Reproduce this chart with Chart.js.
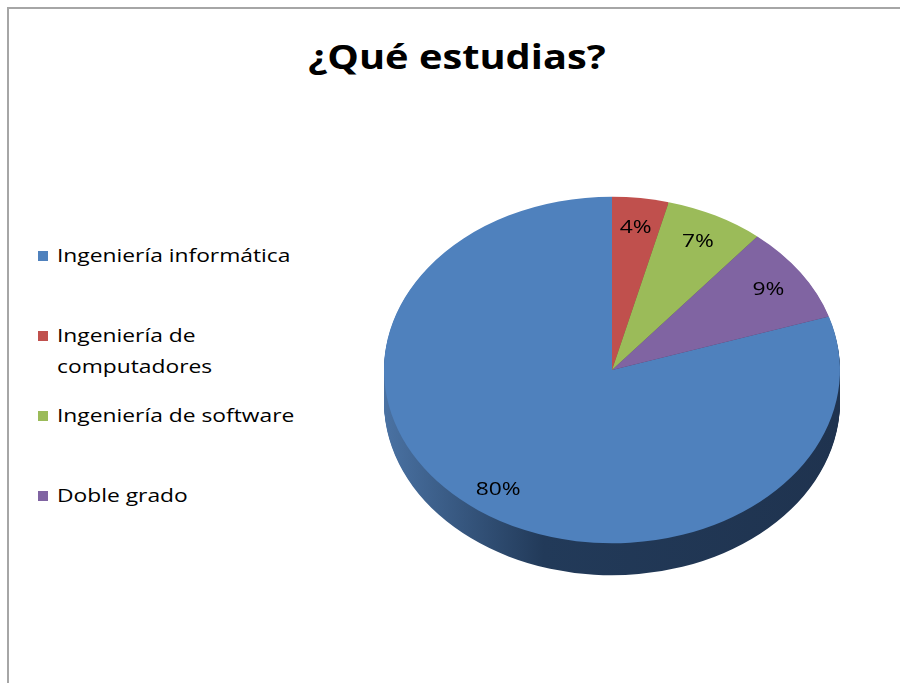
<!DOCTYPE html>
<html>
<head>
<meta charset="utf-8">
<script src="https://cdn.jsdelivr.net/npm/chart.js@4"></script>
<style>
  html, body { margin: 0; padding: 0; background: #fff; }
  #wrap { position: relative; width: 900px; height: 683px; overflow: hidden; }
  #frame { position: absolute; left: 7px; top: 7px; width: 900px; height: 700px;
           border-left: 2px solid #a6a6a6; border-top: 2px solid #a6a6a6; }
  #title { position: absolute; left: 0; width: 914px; top: 33px; text-align: center;
           font: bold 34px "Open Sans", sans-serif; color: #000;
           transform: scaleX(1.17); transform-origin: 457px 0; }
  #legend { position: absolute; left: 38px; top: 240px; font: 19px "Open Sans", sans-serif; color: #000; }
  .item { position: absolute; left: 0; white-space: nowrap; line-height: 31px; }
  .box { display: inline-block; width: 10px; height: 10px; margin-right: 9px; vertical-align: 1px; }
  .txt { display: inline-block; vertical-align: top; transform: scaleX(1.2); transform-origin: 0 0; }
  canvas { position: absolute; left: 0; top: 0; }
</style>
</head>
<body>
<div id="wrap">
  <div id="frame"></div>
  <div id="title">¿Qué estudias?</div>
  <div id="legend"></div>
  <canvas id="pie" width="900" height="683"></canvas>
</div>
<script>
const labels = ["Ingeniería informática", "Ingeniería de computadores", "Ingeniería de software", "Doble grado"];
const legendLines = [["Ingeniería informática"], ["Ingeniería de", "computadores"], ["Ingeniería de software"], ["Doble grado"]];
const values = [80, 4, 7, 9];
const colors = ["#4f81bd", "#c0504d", "#9bbb59", "#8064a2"];
const sideColors = ["#2c4a70", "#7a2f2d", "#5f7733", "#4d3b63"];

// legend
const legend = document.getElementById("legend");
legendLines.forEach(function (lines, i) {
  const div = document.createElement("div");
  div.className = "item";
  div.style.top = (i * 80) + "px";
  div.innerHTML = '<span class="box" style="background:' + colors[i] + '"></span><span class="txt">' +
    lines.join("<br>") + "</span>";
  legend.appendChild(div);
});

const squash = 0.76;
const depth = 32;

const pie3d = {
  id: "pie3d",
  beforeDatasetsDraw(chart) {
    const meta = chart.getDatasetMeta(0);
    if (!meta.data.length) return;
    const a0 = meta.data[0];
    const cx = a0.x, cy = a0.y, r = a0.outerRadius;
    const ctx = chart.ctx;
    // side walls
    const grad = ctx.createLinearGradient(cx - r, 0, cx + r, 0);
    grad.addColorStop(0, "#4a72a3");
    grad.addColorStop(0.35, "#223a59");
    grad.addColorStop(1, "#1f334f");
    for (let d = depth; d > 0; d--) {
      ctx.save();
      ctx.translate(0, d);
      ctx.translate(cx, cy);
      ctx.scale(1, squash);
      ctx.translate(-cx, -cy);
      meta.data.forEach(function (arc, i) {
        ctx.beginPath();
        ctx.moveTo(arc.x, arc.y);
        ctx.arc(arc.x, arc.y, arc.outerRadius, arc.startAngle, arc.endAngle);
        ctx.closePath();
        ctx.fillStyle = i === 0 ? grad : sideColors[i];
        ctx.fill();
      });
      ctx.restore();
    }
    // squash top face
    ctx.save();
    ctx.translate(cx, cy);
    ctx.scale(1, squash);
    ctx.translate(-cx, -cy);
  },
  afterDatasetsDraw(chart) {
    const meta = chart.getDatasetMeta(0);
    if (!meta.data.length) return;
    const ctx = chart.ctx;
    ctx.restore();
    const total = values.reduce(function (a, b) { return a + b; }, 0);
    meta.data.forEach(function (arc, i) {
      const mid = (arc.startAngle + arc.endAngle) / 2;
      const rr = arc.outerRadius * (i === 0 ? 0.85 : 0.83);
      const x = arc.x + Math.cos(mid) * rr;
      const y = arc.y + Math.sin(mid) * rr * squash;
      ctx.save();
      ctx.translate(x, y);
      ctx.scale(1.2, 1);
      ctx.font = "19px 'Open Sans', sans-serif";
      ctx.fillStyle = "#000";
      ctx.textAlign = "center";
      ctx.textBaseline = "middle";
      ctx.fillText(Math.round(values[i] / total * 100) + "%", 0, 0);
      ctx.restore();
    });
  }
};

new Chart(document.getElementById("pie"), {
  type: "pie",
  data: {
    labels: labels,
    datasets: [{
      data: values,
      backgroundColor: colors,
      borderWidth: 0
    }]
  },
  options: {
    responsive: false,
    animation: false,
    rotation: 72,
    layout: { padding: { left: 384, right: 60, top: 142, bottom: 85 } },
    plugins: {
      legend: { display: false },
      tooltip: { enabled: false },
      title: { display: false }
    }
  },
  plugins: [pie3d]
});
</script>
</body>
</html>
